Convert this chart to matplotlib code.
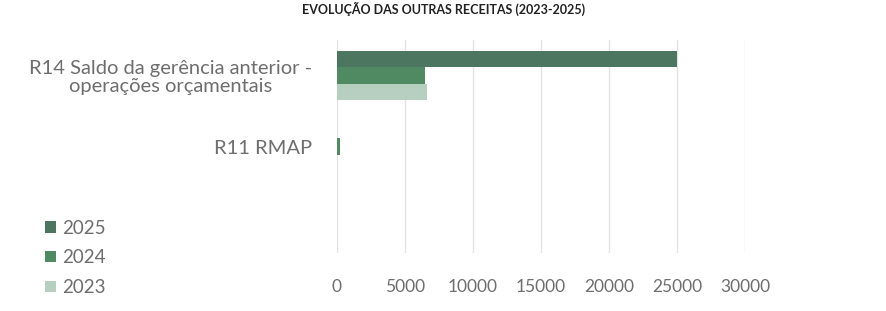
import matplotlib
matplotlib.use("Agg")
import matplotlib.pyplot as plt
import numpy as np

categories = ["", "R11 RMAP", "R14 Saldo da gerência anterior -\noperações orçamentais"]
years = ["2023", "2024", "2025"]
values_2023 = [0, 0, 6600]
values_2024 = [0, 200, 6500]
values_2025 = [0, 0, 25000]
xticks = [0, 5000, 10000, 15000, 20000, 25000, 30000]
title = "EVOLUÇÃO DAS OUTRAS RECEITAS (2023-2025)"

colors = {"2023": "#b7cfc1", "2024": "#4f8a62", "2025": "#4c7660"}
series = {"2023": values_2023, "2024": values_2024, "2025": values_2025}

plt.rcParams['font.family'] = ['Lato', 'DejaVu Sans']
fig = plt.figure(figsize=(8.87, 3.11), dpi=100)
ax = fig.add_axes([337/887, 1-253/311, (745-337)/887, (253-40)/311])

y = np.arange(len(categories))
h = 0.23
offsets = {"2023": -h, "2024": 0.0, "2025": h}
handles = []
for yr in ["2025", "2024", "2023"]:
    b = ax.barh(y + offsets[yr], series[yr], height=h, color=colors[yr], label=yr)
    handles.append(b)

textc = "#6e6e6e"
ax.set_xlim(0, 30000)
ax.set_ylim(-0.5, 2.5)
ax.set_xticks(xticks)
ax.set_xticklabels([str(t) for t in xticks])
ax.set_yticks(y)
ax.set_yticklabels(categories, multialignment='center', linespacing=1.1)
ax.tick_params(axis='both', length=0, colors=textc)
ax.tick_params(axis='x', pad=19, labelsize=12.5)
ax.tick_params(axis='y', pad=18, labelsize=14.5)
ax.grid(axis='x', color="#e3e3e3", linewidth=1)
ax.set_axisbelow(True)
for s in ax.spines.values():
    s.set_visible(False)

leg = fig.legend(handles=handles, labels=["2025", "2024", "2023"],
                 loc='upper left', bbox_to_anchor=(38/887, 1-212/311),
                 frameon=False, fontsize=13.5, handlelength=0.55, handleheight=0.55,
                 handletextpad=0.35, labelspacing=0.68, labelcolor=textc,
                 borderaxespad=0)

fig.text(0.5, 0.995, title, ha='center', va='top', fontsize=9, fontweight='bold', color="#222222")

fig.savefig("out.png", dpi=100, facecolor="white")
